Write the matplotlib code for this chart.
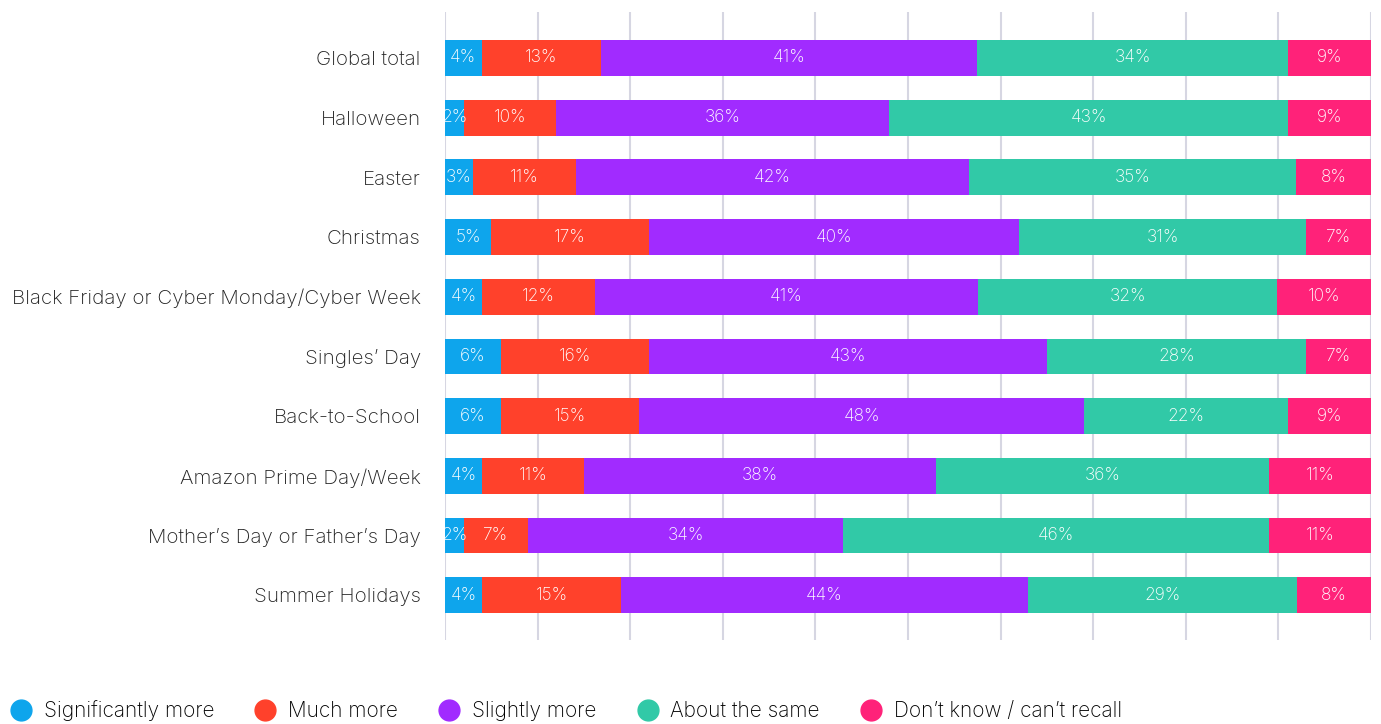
import numpy as np
import matplotlib.pyplot as plt
from matplotlib.lines import Line2D

plt.rcParams['font.family'] = ['Inter', 'DejaVu Sans']

events = ["Global total", "Halloween", "Easter", "Christmas",
          "Black Friday or Cyber Monday/Cyber Week", "Singles\u2019 Day",
          "Back-to-School", "Amazon Prime Day/Week",
          "Mother\u2019s Day or Father\u2019s Day", "Summer Holidays"]

significantly_more = [4, 2, 3, 5, 4, 6, 6, 4, 2, 4]
much_more = [13, 10, 11, 17, 12, 16, 15, 11, 7, 15]
slightly_more = [41, 36, 42, 40, 41, 43, 48, 38, 34, 44]
about_same = [34, 43, 35, 31, 32, 28, 22, 36, 46, 29]
dont_know = [9, 9, 8, 7, 10, 7, 9, 11, 11, 8]

series_names = ["Significantly more", "Much more", "Slightly more",
                "About the same", "Don\u2019t know / can\u2019t recall"]
colors = ["#0EA5EC", "#FF412B", "#A12BFF", "#31C9A7", "#FF2279"]

data = np.array([significantly_more, much_more, slightly_more, about_same, dont_know], dtype=float)
# rows are rounded, so scale each bar to fill 100%
shares = data / data.sum(axis=0) * 100

fig = plt.figure(figsize=(13.81, 7.24), dpi=100)
ax = fig.add_axes([445 / 1381, 1 - 640 / 724, 926 / 1381, 628 / 724])

y = np.arange(len(events))
left = np.zeros(len(events))
for vals, shown, col in zip(shares, data, colors):
    ax.barh(y, vals, left=left, height=0.6, color=col, zorder=3)
    for yi, l, v, s in zip(y, left, vals, shown):
        ax.text(l + v / 2, yi, f"{s:.0f}%", ha="center", va="center",
                color="white", fontsize=12.5, fontweight="light", zorder=4)
    left += vals

ax.set_xlim(0, 100)
ax.set_ylim(len(events) - 1 + 0.75, -0.77)
ax.set_xticks(np.arange(0, 101, 10))
ax.xaxis.grid(True, color="#D6D6E2", linewidth=1.5, zorder=0)
ax.tick_params(axis="x", length=0, labelbottom=False)
ax.set_yticks(y)
ax.set_yticklabels(events, fontsize=14.8, fontweight="light", color="#222222")
ax.tick_params(axis="y", length=0, pad=17.5)
for s in ax.spines.values():
    s.set_visible(False)

handles = [Line2D([], [], marker="o", linestyle="none", markersize=15,
                  markerfacecolor=c, markeredgecolor=c) for c in colors]
fig.legend(handles, series_names, loc="lower left", bbox_to_anchor=(-0.006, -0.022),
           ncol=5, frameon=False, handlelength=1.0, handletextpad=0.6,
           columnspacing=1.95, prop={"weight": "light", "size": 15})

fig.savefig("out.png", dpi=100)
